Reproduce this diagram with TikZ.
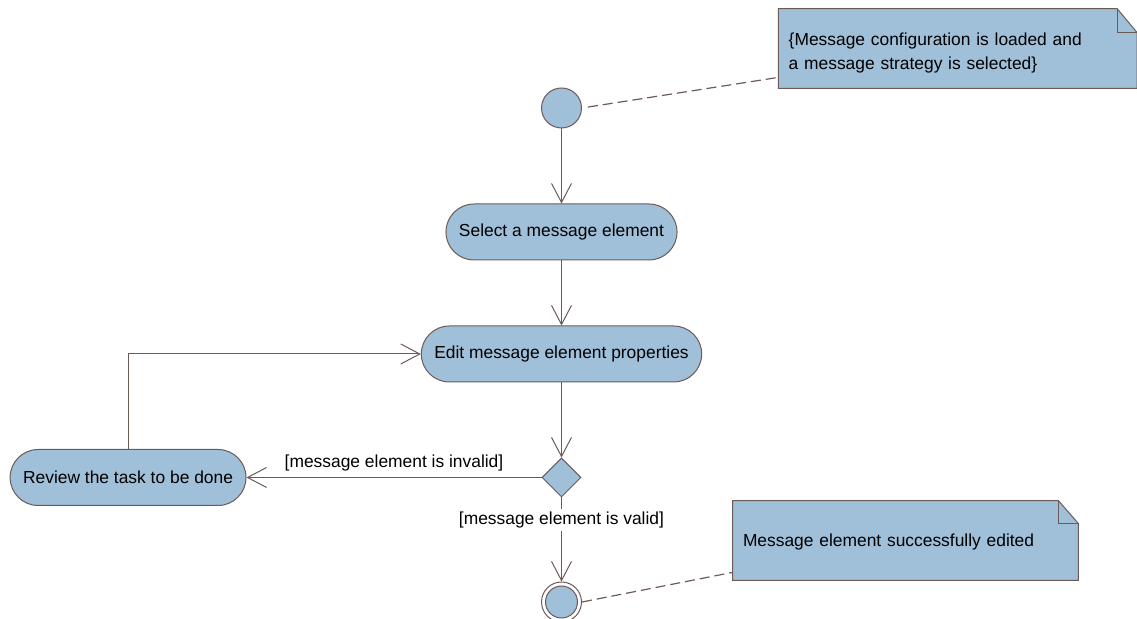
\documentclass[tikz,border=0pt]{standalone}
\usepackage{fontspec}
\setmainfont{Liberation Sans}
\usepackage{tikz}
\usetikzlibrary{arrows.meta,positioning,shapes.geometric,backgrounds}
\definecolor{adfill}{RGB}{160,191,217}
\definecolor{adedge}{RGB}{108,90,86}
\newcommand\adfont{\fontsize{8.7}{12}\selectfont}
\tikzset{
  adbox/.style={draw=adedge, line width=0.5pt, fill=adfill, font=\adfont},
  act/.style={adbox, rounded corners=14pt, minimum height=28pt, inner xsep=6.5pt},
  initnode/.style={adbox, circle, minimum size=20pt, inner sep=0pt},
  endring/.style={draw=adedge, line width=0.5pt, fill=white, circle, minimum size=20pt, inner sep=0pt},
  endcore/.style={adbox, circle, minimum size=16pt, inner sep=0pt},
  decision/.style={adbox, diamond, aspect=1, minimum size=19.5pt, inner sep=0pt},
  note/.style={font=\adfont, align=left, inner xsep=5pt, minimum height=39.5pt},
  notebg/.style={draw=adedge, fill=adfill, line width=0.5pt},
  arr/.style={-{Straight Barb[length=9.5pt,width=10pt]}, draw=adedge, line width=0.5pt},
  darr/.style={draw=adedge, line width=0.6pt, dash pattern=on 5pt off 2.5pt},
  anno/.style={font=\adfont, inner sep=1.5pt}
}
\begin{document}
\begin{tikzpicture}
  \useasboundingbox (0,0) rectangle (568.5pt,-309.5pt);
  \node[initnode] (init) at (280.75pt,-54pt) {};
  \node[act, below=37.5pt of init] (select) {Select a message element};
  \node[act, below=32.5pt of select] (edit) {Edit message element properties};
  \node[decision, below=37.5pt of edit] (decide) {};
  \node[act, left=147.5pt of decide] (review) {Review the task to be done};
  \node[endring, below=42pt of decide] (final) {};
  \node[endcore] (finalcore) at (final) {};
  \node[note, text width=169pt, text height=10.5pt] (tnote) at (478.85pt,-24.25pt)
    {\{Message configuration is loaded and\\a message strategy is selected\}};
  \node[note, text width=162.5pt, inner xsep=4.5pt, minimum width=172.5pt, text height=8.3pt,
    text depth=1.8pt] (bnote) at (452.75pt,-270.25pt)
    {Message element successfully edited};
  \begin{scope}[on background layer]
    \draw[notebg] (tnote.north west) -- ([xshift=-10pt]tnote.north east)
      -- ([yshift=-12pt]tnote.north east) -- (tnote.south east) -- (tnote.south west) -- cycle;
    \draw[notebg, fill=none] ([xshift=-10pt]tnote.north east) |- ([yshift=-12pt]tnote.north east);
    \draw[notebg] (bnote.north west) -- ([xshift=-10pt]bnote.north east)
      -- ([yshift=-11.5pt]bnote.north east) -- (bnote.south east) -- (bnote.south west) -- cycle;
    \draw[notebg, fill=none] ([xshift=-10pt]bnote.north east) |- ([yshift=-11.5pt]bnote.north east);
  \end{scope}
  \draw[arr] (init) -- (select);
  \draw[arr] (select) -- (edit);
  \draw[arr] (edit) -- (decide);
  \draw[arr] (decide) -- (review) node[anno, midway, above=1.5pt] {[message element is invalid]};
  \draw[arr] (review.north) |- (edit.west);
  \draw[arr] (decide) -- (final) node[anno, pos=0.27, fill=white] {[message element is valid]};
  \draw[darr, shorten <=3pt] (init.east) -- ([yshift=5.5pt]tnote.south west);
  \draw[darr] (final.east) -- ([yshift=4pt]bnote.south west);
\end{tikzpicture}
\end{document}
